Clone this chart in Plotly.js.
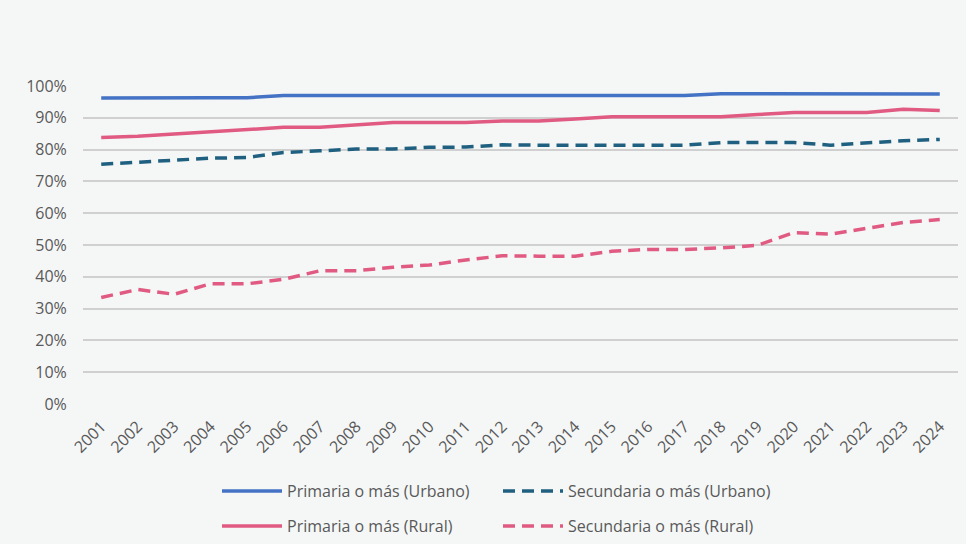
<!DOCTYPE html>
<html>
<head>
<meta charset="utf-8">
<script src="https://cdn.plot.ly/plotly-3.0.1.min.js"></script>
<style>html,body{margin:0;padding:0;background:#f5f7f7;}#chart{width:966px;height:544px;}</style>
</head>
<body>
<div id="chart"></div>
<script>
const years = ["2001","2002","2003","2004","2005","2006","2007","2008","2009","2010","2011","2012","2013","2014","2015","2016","2017","2018","2019","2020","2021","2022","2023","2024"];
const primariaUrbano = [96.2,96.3,96.3,96.3,96.3,97.0,97.0,97.0,97.0,97.0,97.0,97.0,97.0,97.0,97.0,97.0,97.0,97.6,97.6,97.5,97.6,97.6,97.6,97.5];
const secundariaUrbano = [75.4,76.0,76.6,77.3,77.5,79.1,79.6,80.2,80.2,80.7,80.8,81.5,81.4,81.4,81.4,81.4,81.4,82.2,82.2,82.2,81.4,82.2,82.8,83.2];
const primariaRural = [83.8,84.2,84.9,85.6,86.3,87.0,87.0,87.8,88.5,88.5,88.5,89.0,89.0,89.6,90.3,90.3,90.3,90.3,91.0,91.7,91.7,91.7,92.7,92.3];
const secundariaRural = [33.5,36.0,34.5,37.8,37.8,39.2,41.9,41.9,43.0,43.7,45.3,46.6,46.5,46.5,48.0,48.6,48.6,49.1,49.9,53.9,53.4,55.3,57.1,58.0];
const names = ["Primaria o más (Urbano)","Secundaria o más (Urbano)","Primaria o más (Rural)","Secundaria o más (Rural)"];

const blue = "#4472c4", teal = "#1f6080", pink = "#e05a82";
function tr(y, name, color, dash, leg) {
  return {x: years, y: y, name: name, type: "scatter", mode: "lines", legend: leg,
    line: {color: color, width: 3.5, dash: dash}};
}
const data = [
  tr(primariaUrbano, names[0], blue, "solid", "legend"),
  tr(secundariaUrbano, names[1], teal, "12px,7px", "legend"),
  tr(primariaRural, names[2], pink, "solid", "legend2"),
  tr(secundariaRural, names[3], pink, "12px,7px", "legend2")
];
const legBase = {orientation: "h", xref: "container", yref: "container", xanchor: "left", yanchor: "middle",
  x: 217 / 966, entrywidth: 206, entrywidthmode: "pixels", itemwidth: 60,
  font: {size: 16, color: "#595959"}, bgcolor: "rgba(0,0,0,0)"};
const layout = {
  width: 966, height: 544,
  paper_bgcolor: "#f5f7f7", plot_bgcolor: "#f5f7f7",
  margin: {l: 83, r: 8, t: 86, b: 140},
  font: {family: "'Open Sans', sans-serif", color: "#595959", size: 16},
  xaxis: {type: "category", range: [-0.5, 23.5], tickangle: -45, showgrid: false, automargin: false,
    zeroline: false, showline: false, ticks: "outside", ticklen: 6, tickcolor: "rgba(0,0,0,0)", tickfont: {size: 16}},
  yaxis: {range: [0, 100], dtick: 10, ticksuffix: "%", gridcolor: "#d0d0d0", gridwidth: 1.5, automargin: false,
    zeroline: false, showline: false, ticks: "outside", ticklen: 12, tickcolor: "rgba(0,0,0,0)", tickfont: {size: 16}},
  showlegend: true,
  legend: Object.assign({}, legBase, {y: 1 - 491 / 544}),
  legend2: Object.assign({}, legBase, {y: 1 - 526 / 544}),
};
Plotly.newPlot("chart", data, layout, {displayModeBar: false});
</script>
</body>
</html>
